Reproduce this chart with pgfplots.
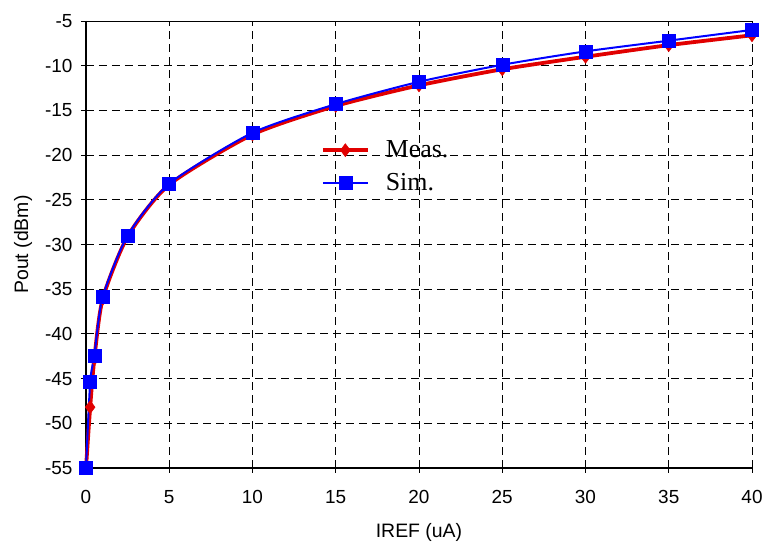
\documentclass[border=0pt]{standalone}
\usepackage{fontspec}
\setmainfont{Liberation Sans}
\newfontfamily\legfont{Liberation Serif}
\usepackage{pgfplots}
\pgfplotsset{compat=1.18}
\definecolor{mred}{RGB}{225,0,0}
\definecolor{sblue}{RGB}{0,0,255}
\begin{document}
\begin{tikzpicture}
\begin{axis}[
  scale only axis,
  width=666bp, height=447bp,
  xmin=0, xmax=40, ymin=-55, ymax=-5,
  xtick={0,5,...,40}, ytick={-55,-50,...,-5},
  /pgf/number format/assume math mode=true,
  tick label style={font=\fontsize{19}{22}\selectfont},
  label style={font=\fontsize{19.5}{22}\selectfont},
  yticklabel style={xshift=-5bp},
  xticklabel style={yshift=-14bp},
  xlabel={IREF (uA)}, ylabel={Pout (dBm)},
  xlabel style={at={(axis description cs:0.5,-0.145)}, anchor=center},
  ylabel style={at={(axis description cs:-0.0946,0.5)}, anchor=center},
  grid=major,
  major grid style={black, dashed, line width=0.8bp, dash pattern=on 8bp off 5bp},
  axis line style={draw=none},
  tick align=outside,
  major tick length=5bp,
  tick style={black, line width=0.8bp},
  xtick pos=bottom, ytick pos=left,
  legend style={at={(rel axis cs:0.348,0.741)}, anchor=north west, draw=none, fill=none,
    font=\legfont\fontsize{26}{30}\selectfont, row sep=10bp, column sep=14bp},
  legend cell align=left,
  legend image code/.code={%
    \draw[#1, mark repeat=2, mark phase=2] plot coordinates {(0bp,0bp) (22.5bp,0bp) (45bp,0bp)};},
  clip=false,
]
\draw[black, line width=1.6bp] (rel axis cs:0,1) -- (rel axis cs:0,0) -- (rel axis cs:1,0);
\draw[black, line width=0.8bp] (rel axis cs:0,1) -- (rel axis cs:1,1);
\addplot[mred, line width=3.8bp, smooth, tension=0.4, mark=diamond*, mark size=6.5bp,
  mark options={solid, line width=0.5bp}]
  coordinates {(0,-55) (0.25,-48.2) (0.5,-42.8) (1,-36.1) (2.5,-29.1) (5,-23.3) (10,-17.7) (15,-14.5) (20,-12.2) (25,-10.4) (30,-9.0) (35,-7.7) (40,-6.6)};
\addlegendentry{Meas.}
\addplot[sblue, line width=2bp, smooth, tension=0.4, mark=square*, mark size=6.5bp,
  mark options={solid, line width=0.5bp}]
  coordinates {(0,-55) (0.25,-45.4) (0.5,-42.4) (1,-35.9) (2.5,-29.0) (5,-23.2) (10,-17.5) (15,-14.3) (20,-11.8) (25,-9.9) (30,-8.4) (35,-7.2) (40,-6.0)};
\addlegendentry{Sim.}
\end{axis}
\pgfresetboundingbox
\path (current axis.south west) ++(-86bp,-77bp) coordinate (BL);
\path (current axis.north east) ++(11bp,21bp) coordinate (TR);
\path[use as bounding box] (BL) rectangle (TR);
\end{tikzpicture}
\end{document}
